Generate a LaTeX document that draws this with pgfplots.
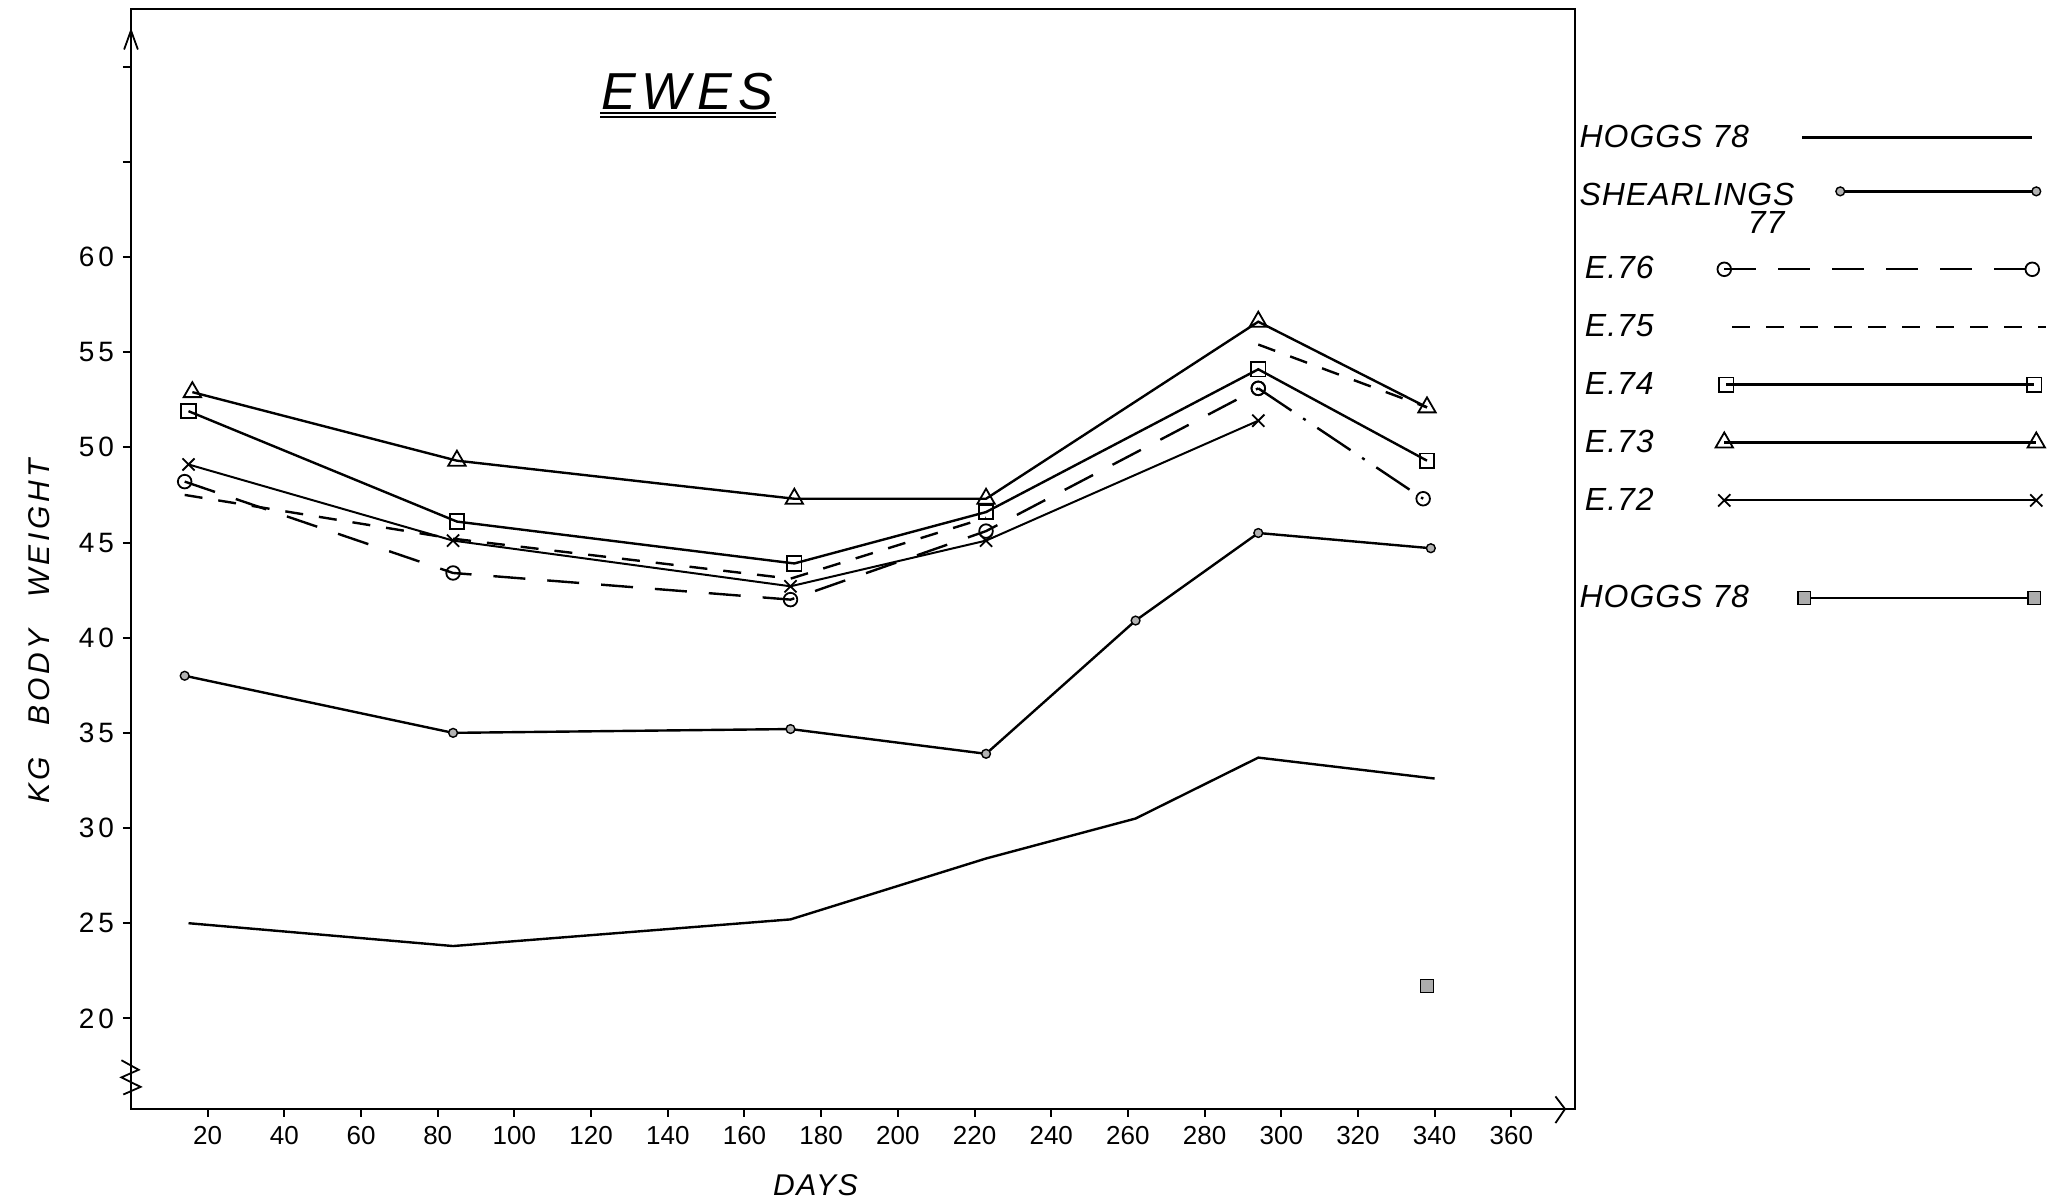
\documentclass[border=0pt]{standalone}
\usepackage{fontspec}
\setmainfont{Liberation Sans}
\usepackage{pgfplots}
\pgfplotsset{compat=1.18}
\pgfplotsset{
  limgline/.style 2 args={legend image code/.code={\draw[##1] (#1,0pt) -- (#2,0pt);}},
  limgmark/.style 2 args={legend image code/.code={\draw[##1] plot coordinates {(#1,0pt) (#2,0pt)};}},
  limgmarkup/.style 2 args={legend image code/.code={\draw[##1] plot coordinates {(#1,6pt) (#2,6pt)};}},
  limgsq/.style 2 args={legend image code/.code={\draw[black, line width=1.1pt] (#1,0pt) -- (#2,0pt);
     \draw[##1] plot coordinates {(#1,0pt) (#2,0pt)};}},
}
\begin{document}
\begin{tikzpicture}
\path[use as bounding box] (-65.5pt,-46.5pt) rectangle (963.5pt,554.5pt);
\begin{axis}[
  scale only axis,
  width=722pt, height=550pt,
  xmin=0, xmax=376.6,
  ymin=15.24, ymax=73.03,
  clip=false,
  axis line style={line width=1.3pt},
  tick pos=left,
  xtick={20,40,...,360},
  ytick={20,25,...,60},
  extra y ticks={65,70},
  extra y tick labels={},
  tick align=outside,
  major tick length=4pt,
  tick style={line width=1pt, black},
  /pgf/number format/assume math mode=true,
  tick label style={font=\fontsize{13}{15}\selectfont},
  yticklabel style={font=\fontsize{14}{16}\selectfont\addfontfeature{LetterSpace=14}, xshift=-1pt},
  xticklabel style={yshift=-1pt},
  xlabel={DAYS},
  ylabel={KG\hspace{16pt}BODY\hspace{16pt}WEIGHT},
  label style={font=\fontsize{15}{17}\selectfont\itshape},
  xlabel style={at={(rel axis cs:0.474,-0.069)}, anchor=center, font=\fontsize{15}{17}\selectfont\itshape\addfontfeature{LetterSpace=6}},
  ylabel style={at={(rel axis cs:-0.0634,0.434)}, anchor=center, font=\fontsize{15}{17}\selectfont\itshape\addfontfeature{LetterSpace=12}},
  legend plot pos=right,
  legend cell align=left,
  legend style={at={(rel axis cs:0.996,0.9024)}, anchor=north west, draw=none, fill=none,
    font=\fontsize{16}{18}\selectfont\itshape\addfontfeature{LetterSpace=3}, row sep=12.3pt, column sep=4pt},
]
% Hoggs 78 (line)
\addplot[black, line width=1.2pt, limgline={39pt}{154pt}]
  coordinates {(15,25.0)(84,23.8)(172,25.2)(223,28.4)(262,30.5)(294,33.7)(340,32.6)};
\addlegendentry{\makebox[62pt][l]{HOGGS 78}}
% Shearlings 77
\addplot[black, line width=1.2pt, mark=*, mark size=2.2pt,
  mark options={fill=gray!60, draw=black, line width=0.7pt}, limgmarkup={58pt}{156pt}]
  coordinates {(14,38.0)(84,35.0)(172,35.2)(223,33.9)(262,40.9)(294,45.5)(339,44.7)};
\addlegendentry{\makebox[62pt][l]{\raisebox{8pt}{SHEARLINGS}\llap{\raisebox{-6pt}{77\hspace{5pt}}}}}
% E.76
\addplot[black, line width=1.2pt, dash pattern=on 16pt off 11pt, mark=o, mark size=3.4pt,
  mark options={solid, line width=0.9pt}, limgmark={0pt}{154pt}]
  coordinates {(14,48.2)(84,43.4)(172,42.0)(223,45.6)(294,53.1)};
\addlegendentry{\makebox[62pt][l]{\,E.76}}
\addplot[black, line width=1.2pt, dash pattern=on 20pt off 7pt on 1.5pt off 7pt, mark=o, mark size=3.4pt,
  mark options={solid, line width=0.9pt}, forget plot]
  coordinates {(294,53.1)(337,47.3)};
% E.75
\addplot[black, line width=1.2pt, dash pattern=on 9pt off 8pt, limgline={4pt}{161pt}]
  coordinates {(14,47.5)(84,45.2)(172,43.1)(223,46.3)};
\addlegendentry{\makebox[62pt][l]{\,E.75}}
\addplot[black, line width=1.2pt, dash pattern=on 9pt off 8pt, forget plot]
  coordinates {(294,55.4)(338,52.1)};
% E.74
\addplot[black, line width=1.2pt, mark=square, mark size=3.6pt,
  mark options={solid, line width=0.9pt}, limgmark={1pt}{155pt}]
  coordinates {(15,51.9)(85,46.1)(173,43.9)(223,46.6)(294,54.1)(338,49.3)};
\addlegendentry{\makebox[62pt][l]{\,E.74}}
% E.73
\addplot[black, line width=1.2pt, mark=triangle, mark size=5pt,
  mark options={solid, line width=0.9pt}, limgmark={0pt}{156pt}]
  coordinates {(16,52.9)(85,49.3)(173,47.3)(223,47.3)(294,56.6)(338,52.1)};
\addlegendentry{\makebox[62pt][l]{\,E.73}}
% E.72
\addplot[black, line width=1.0pt, mark=x, mark size=4.3pt,
  mark options={solid, line width=0.9pt}, limgmark={0pt}{156pt}]
  coordinates {(15,49.1)(84,45.1)(172,42.7)(223,45.1)(294,51.4)};
\addlegendentry{\makebox[62pt][l]{\,E.72}}
\addlegendimage{empty legend}
\addlegendentry{\rule{0pt}{2pt}}
% Hoggs 78 (square)
\addplot[only marks, mark=square*, mark size=3.2pt,
  mark options={fill=gray!65, draw=black, line width=0.8pt}, limgsq={40pt}{155pt}]
  coordinates {(338,21.7)};
\addlegendentry{\makebox[62pt][l]{HOGGS 78}}
% decorations: title, arrows, axis break
\node[font=\fontsize{26}{30}\selectfont\itshape\addfontfeature{LetterSpace=12}] at (rel axis cs:0.385,0.9245) {EWES};
\draw[line width=1pt] (rel axis cs:0.325,0.9055) -- (rel axis cs:0.4467,0.9055);
\draw[line width=1pt] (rel axis cs:0.325,0.9015) -- (rel axis cs:0.4467,0.9015);
\draw[line width=0.9pt] (axis cs:-1.8,70.9) -- (axis cs:0,71.9) -- (axis cs:1.8,70.9);
\draw[line width=0.9pt] (axis cs:371.5,15.9) -- (axis cs:374,15.24) -- (axis cs:371.5,14.5);
\draw[line width=0.9pt] (axis cs:-2.5,17.8) -- (axis cs:2,17.3) -- (axis cs:-2.5,16.9) -- (axis cs:2.5,16.4) -- (axis cs:-2,16.0);
\end{axis}
\end{tikzpicture}
\end{document}
